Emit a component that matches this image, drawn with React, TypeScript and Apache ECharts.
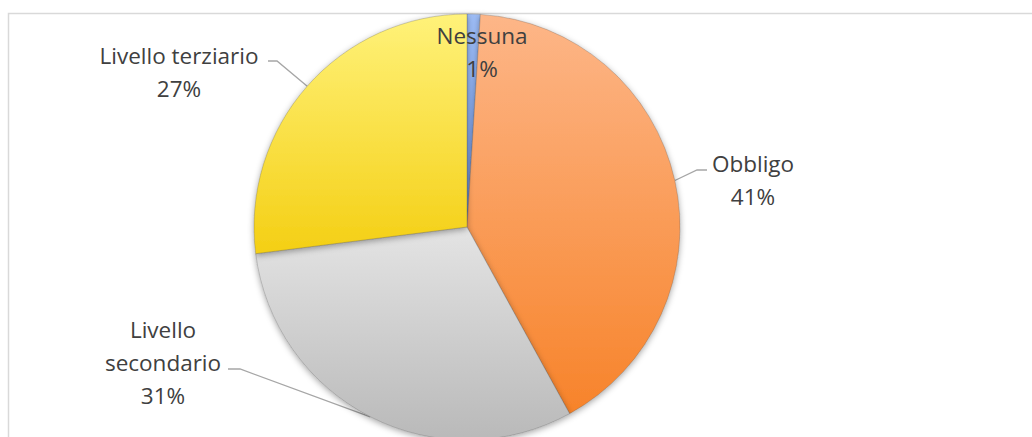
import React, { useEffect, useRef } from "react";
import * as echarts from "echarts";

const categories = ["Nessuna", "Obbligo", "Livello secondario", "Livello terziario"];
const labelTexts = ["Nessuna", "Obbligo", "Livello\nsecondario", "Livello terziario"];
const values = [1, 41, 31, 27];
const percentLabels = ["1%", "41%", "31%", "27%"];

// styling (not data)
const topColors = ["#9dbcf5", "#fdb688", "#e4e4e4", "#fff27a"];
const bottomColors = ["#6f97e6", "#f7832a", "#b9b9b9", "#f4cf14"];
const labelPos: [number, number][] = [
  [482, 52],
  [753, 180],
  [163, 362],
  [179, 72],
];
const lineElbow: ([number, number] | null)[][] = [
  [null, null],
  [[697, 170], [707, 170]],
  [[240, 369], [228, 369]],
  [[277, 61], [268, 61]],
];

export default function App() {
  const ref = useRef<HTMLDivElement>(null);
  useEffect(() => {
    document.body.style.margin = "0";
    const chart = echarts.init(ref.current!, null, { renderer: "svg" });
    const data = categories.map((name, i) => ({
      name,
      value: values[i],
      label: {
        formatter: labelTexts[i] + "\n" + percentLabels[i],
      },
      labelLine: { show: i !== 0 },
      itemStyle: {
        color: new echarts.graphic.LinearGradient(0, 0, 0, 1, [
          { offset: 0, color: topColors[i] },
          { offset: 1, color: bottomColors[i] },
        ]),
      },
    }));
    chart.setOption({
      animation: false,
      backgroundColor: "#ffffff",
      graphic: [
        {
          type: "rect",
          shape: { x: 8.5, y: 13.5, width: 1100, height: 500 },
          style: { fill: "none", stroke: "#d9d9d9", lineWidth: 1.5 },
          z: -10,
        },
      ],
      series: [
        {
          type: "pie",
          center: [467, 227],
          radius: 213,
          startAngle: 90,
          clockwise: true,
          avoidLabelOverlap: false,
          itemStyle: {
            borderColor: "rgba(80,80,80,0.35)",
            borderWidth: 0.8,
            shadowBlur: 6,
            shadowColor: "rgba(0,0,0,0.35)",
            shadowOffsetY: 2,
          },
          label: {
            show: true,
            position: "outside",
            color: "#404040",
            fontFamily: "Open Sans",
            fontSize: 22.5,
            lineHeight: 33,
            align: "center",
          },
          labelLine: {
            show: true,
            length: 20,
            length2: 10,
            lineStyle: { color: "#a6a6a6", width: 1.3 },
          },
          labelLayout: (params: any) => {
            const i = params.dataIndex;
            const p = labelPos[i];
            const res: any = { x: p[0], y: p[1], align: "center", verticalAlign: "middle" };
            const el = lineElbow[i];
            if (el[0] && params.labelLinePoints) {
              res.labelLinePoints = [params.labelLinePoints[0], el[0], el[1]];
            }
            return res;
          },
          data,
        },
      ],
    });
    return () => chart.dispose();
  }, []);
  return <div ref={ref} style={{ width: 1032, height: 437 }} />;
}
